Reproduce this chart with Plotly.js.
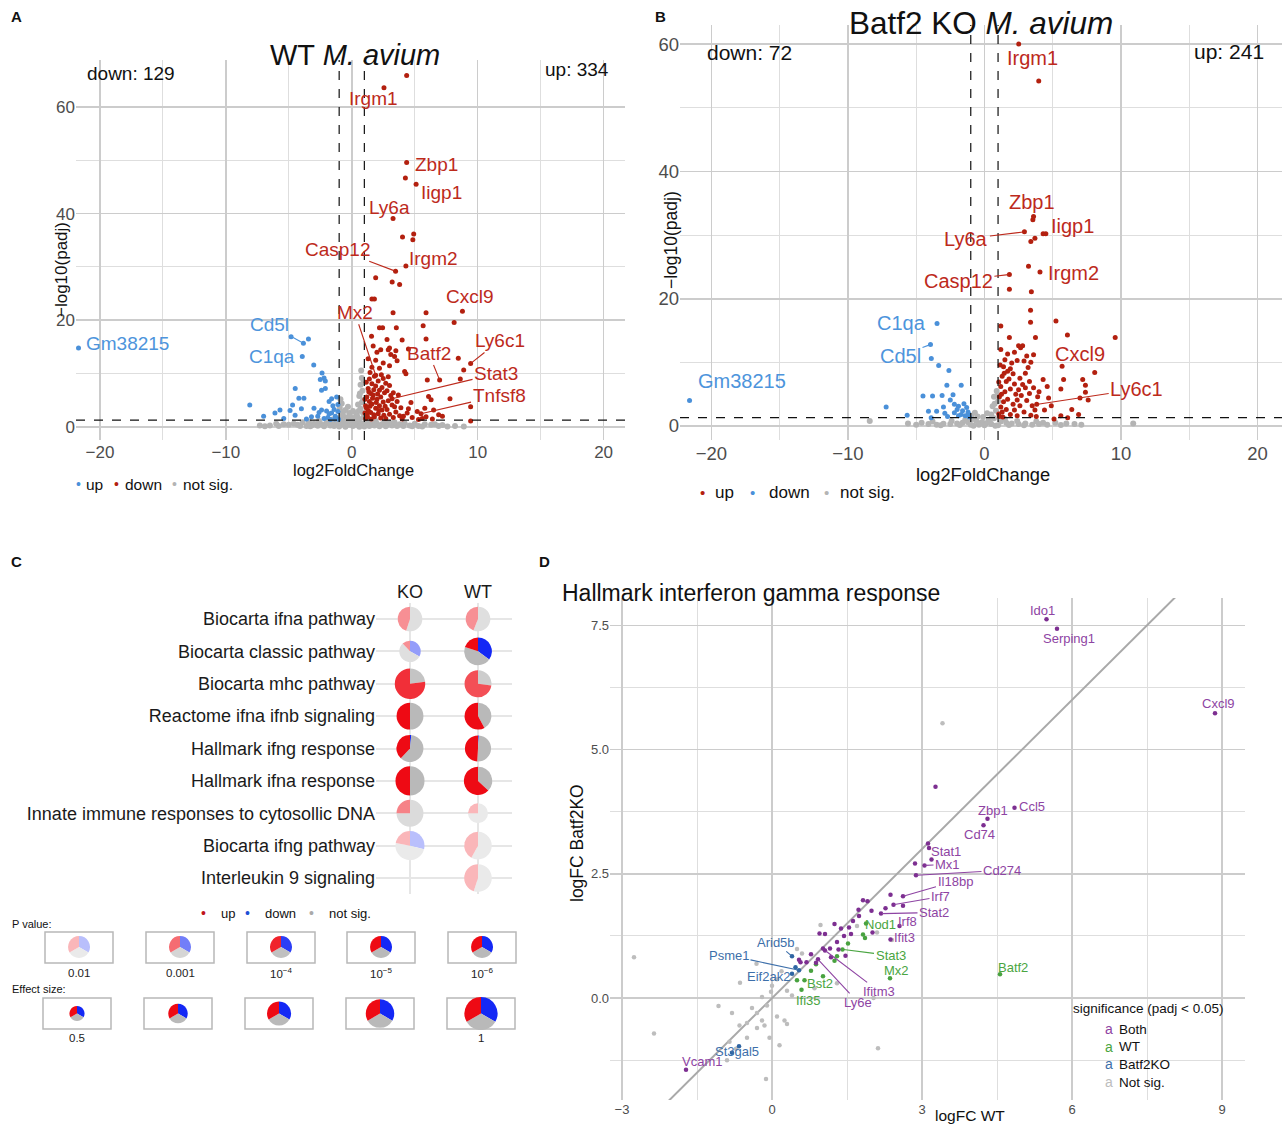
<!DOCTYPE html>
<html><head><meta charset="utf-8">
<script src="https://cdn.plot.ly/plotly-3.0.1.min.js"></script>
<style>html,body{margin:0;padding:0;background:#fff}#chart{width:1282px;height:1124px}</style>
</head><body><div id="chart"></div>
<script>
const W = 1282, H = 1124;
const FONT = 'Liberation Sans, Arial, Helvetica, sans-serif';

// ================= DATA =================
// thresholds
const lfcThreshold = 1;
const padjThreshold = 0.05;

// ---- Panel A: WT M. avium (log2FoldChange, -log10 padj) ----
const aCountDown = 129, aCountUp = 334;
const aUp = [[4.36,65.9],[2.56,63.6],[4.36,49.6],[4.26,46.7],[5.11,45.5],[3.28,39.1],[4.03,35.6],[4.92,36.2],[4.85,35.1],[4.30,30.2],[3.48,29.2],[1.90,28.0],[3.21,27.2],[3.80,26.7],[1.60,24.0],[1.80,24.0],[8.79,21.7],[3.28,21.4],[5.90,21.4],[8.13,19.6],[5.67,19.0],[2.20,18.6],[2.45,18.6],[3.54,18.6],[1.57,17.0],[5.90,16.5],[2.8,16.4],[4.0,16.3],[1.7,15.2],[2.3,14.5],[2.9,14.5],[3.0,14.8],[3.5,14.3],[2.0,14.0],[3.1,13.6],[3.4,13.2],[4.5,14.6],[8.46,12.9],[9.44,11.9],[8.89,10.7],[8.62,9.0],[4.2,10.4],[4.3,10.0],[6.0,8.8],[6.98,8.8],[3.2,5.3],[5.5,2.5],[7.8,5.3],[9.44,3.8],[9.44,1.1],[6.1,5.7],[6.3,5.1],[5.8,3.5],[6.5,3.2],[6.9,2.3],[7.2,2.0],[5.6,1.6],[5.3,1.4],[4.7,4.6],[4.5,3.4],[4.1,2.0],[1.9,9.7],[1.1,1.6],[1.2,2.3],[1.3,3.1],[1.1,4.0],[1.4,4.8],[1.2,5.6],[1.5,6.3],[1.3,7.2],[1.6,8.1],[1.4,9.0],[1.8,9.5],[2.1,8.6],[1.9,7.7],[2.2,6.9],[1.7,6.0],[2.0,5.2],[1.6,4.3],[1.9,3.5],[1.5,2.7],[1.8,1.9],[2.3,1.7],[2.1,2.5],[2.4,3.2],[2.2,4.0],[2.5,4.7],[2.3,5.6],[2.6,6.4],[2.4,7.4],[2.7,8.2],[2.5,9.1],[2.9,9.4],[3.0,7.8],[2.8,6.8],[3.1,5.9],[2.9,4.9],[3.2,4.1],[2.8,3.3],[3.0,2.4],[2.7,1.6],[3.3,1.8],[3.5,2.8],[3.4,3.8],[3.6,4.8],[3.3,6.4],[3.7,6.0],[1.25,1.9],[1.35,2.9],[1.15,3.6],[1.45,3.9],[1.05,5.2],[1.65,5.4],[1.35,6.6],[1.75,7.0],[1.15,8.4],[1.95,4.6],[2.15,3.1],[1.55,1.5],[1.05,2.6],[1.75,2.3],[2.55,2.2],[2.65,3.9],[2.05,6.2],[1.45,10.2],[2.35,9.8],[3.8,2.1],[4.0,1.5],[3.9,3.6],[4.4,2.6],[4.8,1.8],[5.2,2.9],[5.9,1.9],[6.4,1.5],[1.6,11.2],[1.9,12.5],[2.5,12.0],[2.2,11.0],[3.0,11.5],[1.3,12.8],[3.6,12.4]];
const aDown = [[-21.7,14.8],[-4.82,16.9],[-3.44,16.5],[-3.84,15.7],[-3.93,13.2],[-3.02,11.6],[-2.36,10.1],[-2.2,9.2],[-2.1,8.6],[-2.5,8.9],[-4.49,7.2],[-2.1,7.2],[-2.4,6.9],[-8.1,4.1],[-4.2,5.4],[-3.8,5.4],[-4.7,4.1],[-4.0,3.4],[-4.9,3.1],[-5.7,3.2],[-6.1,2.6],[-7.0,2.0],[-5.4,1.6],[-4.5,2.2],[-3.2,1.9],[-2.7,2.0],[-3.0,3.5],[-2.4,3.2],[-1.8,4.8],[-1.6,5.3],[-1.2,5.6],[-1.5,4.0],[-1.8,2.5],[-1.3,2.0],[-2.2,1.6],[-1.1,2.9],[-1.4,3.3],[-1.2,1.6],[-1.9,1.8],[-1.6,2.6],[-1.1,4.2],[-2.0,3.0],[-3.6,1.5],[-2.6,2.7],[-1.05,1.45],[-1.35,1.5],[-1.7,1.4]];
const aNotSig = [[0.75,10.6],[0.8,9.2],[0.7,7.9],[0.85,6.8],[0.6,5.8],[0.9,5.0],[0.5,4.2],[0.7,3.4],[0.9,2.6],[0.4,2.1],[0.6,1.5],[0.95,8.4],[0.65,6.3],[0.8,4.6],[0.55,3.0],[-0.3,0.9],[-0.6,1.1],[-0.9,1.2],[-0.85,2.0],[-0.7,2.8],[-0.95,3.6],[-0.8,4.4],[-0.9,5.2],[0.2,1.0],[0.5,0.8],[0.8,0.6],[-0.2,0.4],[-0.5,0.3],[-0.8,0.5],[0.1,0.2],[0.4,0.4],[-1.2,0.8],[-1.6,0.6],[-2.0,0.7],[-2.4,0.5],[-2.8,0.4],[-3.2,0.3],[-3.6,0.2],[-4.1,0.2],[1.2,0.9],[1.6,0.7],[2.0,0.6],[2.4,0.5],[2.8,0.4],[3.2,0.3],[3.6,0.2],[4.1,0.2],[4.6,0.3],[5.3,0.2],[-1.4,0.2],[-1.0,0.1],[1.0,0.1],[1.4,0.2],[-0.1,0.6],[0.3,1.3],[-0.4,1.8],[-0.7,2.2],[-0.2,2.6],[0.1,3.0],[-0.5,0.05],[0.6,0.05],[-7.3,0.3],[-6.5,0.3],[7.6,0.1],[8.9,0.1],[-5.0,0.4],[5.8,0.5],[-2.2,0.15],[2.2,0.15],[-3.0,0.6],[3.0,0.8],[-1.8,1.0],[1.9,1.1],[0.95,1.8],[-0.95,0.9],[-5.8,0.2],[-4.6,0.6],[-3.9,0.9],[-3.4,1.0],[-2.6,1.1],[-2.0,1.3],[-1.5,1.4],[-1.1,1.3],[1.1,1.3],[1.5,1.2],[2.6,1.0],[3.4,0.9],[4.2,0.7],[5.0,0.6],[6.3,0.4],[6.9,0.2],[8.2,0.2],[-6.0,0.6],[-0.35,1.4],[0.15,1.7],[-0.15,2.0],[0.35,2.5],[-0.5,3.2],[-0.3,3.8],[-5.4,0.5],[-4.3,0.4],[-3.3,0.15],[-2.7,0.25],[-1.7,0.3],[-0.6,0.6],[0.0,0.8],[0.7,0.3],[1.8,0.3],[2.7,0.15],[3.8,0.5],[4.8,0.15],[5.6,0.1],[6.6,0.5],[7.2,0.35],[-6.9,0.15],[-0.05,1.2],[0.45,1.9]];
const aLabelGenes = ['Irgm1','Zbp1','Iigp1','Ly6a','Casp12','Irgm2','Cxcl9','Mx2','Batf2','Ly6c1','Stat3','Tnfsf8','Cd5l','C1qa','Gm38215'];
const aLabelX = [2.56, 4.36, 5.11, 3.28, 3.48, 4.30, 8.79, 1.9, 6.98, 9.44, 3.2, 5.5, -3.84, -3.93, -21.7];
const aLabelY = [63.6, 49.6, 45.5, 39.1, 29.2, 30.2, 21.7, 9.7, 8.8, 11.9, 5.3, 2.5, 15.7, 13.2, 14.8];

// ---- Panel B: Batf2 KO M. avium ----
const bCountDown = 72, bCountUp = 241;
const bUp = [[2.51,60.0],[3.98,54.2],[3.6,32.9],[3.55,32.4],[2.93,30.5],[4.3,30.2],[4.5,30.2],[3.7,29.5],[3.4,29.0],[3.23,25.1],[4.07,24.2],[1.83,23.8],[1.83,21.5],[3.44,21.1],[3.38,18.2],[3.38,16.3],[5.24,16.5],[1.2,15.7],[6.08,14.3],[9.58,13.9],[1.83,13.9],[3.74,13.9],[2.5,12.6],[2.8,12.6],[2.65,12.3],[1.2,12.0],[1.7,11.3],[2.2,11.6],[3.1,11.0],[3.6,11.2],[2.9,10.2],[3.4,10.0],[1.5,10.4],[2.0,9.9],[2.4,10.3],[5.69,9.4],[8.08,8.4],[5.8,7.3],[5.6,5.8],[7.2,7.3],[7.4,6.4],[7.4,5.3],[7.0,4.4],[7.6,4.1],[4.7,4.4],[4.3,7.3],[4.6,6.2],[3.83,3.4],[6.9,1.8],[5.6,1.6],[6.1,1.3],[5.1,1.1],[4.4,2.5],[4.9,3.2],[6.4,2.6],[1.1,1.5],[1.3,2.2],[1.2,3.0],[1.4,3.8],[1.1,4.6],[1.5,5.4],[1.2,6.2],[1.6,7.0],[1.3,7.8],[1.7,8.6],[1.4,9.3],[1.9,9.0],[2.1,8.2],[1.8,7.4],[2.2,6.6],[1.9,5.8],[2.3,5.0],[1.7,4.2],[2.1,3.4],[1.6,2.6],[1.9,1.8],[2.4,1.6],[2.2,2.5],[2.6,3.2],[2.4,4.1],[2.7,4.8],[2.5,5.7],[2.8,6.5],[2.6,7.5],[3.0,8.3],[3.2,9.2],[3.3,7.0],[3.0,6.0],[3.3,5.1],[3.1,4.0],[3.5,3.2],[2.9,2.2],[3.4,1.7],[3.7,2.5],[3.9,4.6],[3.6,6.0],[4.0,5.4],[3.8,1.5],[1.05,1.9],[1.35,1.4],[1.25,5.0],[1.05,6.9],[1.45,8.3],[1.15,9.6]];
const bDown = [[-21.6,4.0],[-3.47,16.1],[-3.95,12.8],[-3.89,10.6],[-3.35,9.5],[-2.6,8.7],[-2.75,6.4],[-1.7,6.4],[-4.5,4.7],[-3.8,4.7],[-3.1,4.8],[-2.3,4.9],[-2.5,4.1],[-2.2,3.4],[-1.9,3.1],[-1.6,2.4],[-2.2,2.1],[-1.9,1.6],[-7.2,3.0],[-5.66,1.7],[-4.1,2.3],[-3.5,2.3],[-3.9,1.3],[-3.0,3.0],[-1.4,1.6],[-1.2,2.2],[-1.5,3.5],[-1.1,1.4],[-2.7,1.5],[-1.3,2.9],[-1.7,1.8],[-2.0,2.6],[-1.15,1.9],[-2.9,2.0]];
const bNotSig = [[0.9,5.5],[0.7,4.6],[1.0,3.9],[0.6,3.1],[0.85,2.4],[0.5,1.8],[0.7,1.2],[0.3,0.9],[-0.2,0.6],[-0.6,0.8],[-0.9,1.1],[0.1,0.4],[0.5,0.3],[-0.4,0.2],[-1.2,0.6],[-1.6,0.5],[-2.0,0.4],[-2.5,0.3],[-3.0,0.35],[-3.5,0.2],[-4.1,0.3],[-5.0,0.2],[-5.6,0.4],[1.2,0.7],[1.6,0.5],[2.0,0.4],[2.5,0.3],[3.0,0.4],[3.5,0.2],[4.0,0.3],[4.6,0.2],[5.2,0.5],[6.0,0.4],[6.6,0.3],[-8.4,0.8],[10.9,0.4],[-0.1,1.4],[0.2,2.0],[-0.5,1.5],[-1.0,0.2],[1.0,0.1],[-1.4,1.0],[1.5,1.1],[-2.4,0.8],[2.4,0.8],[0.0,0.1],[-0.8,0.05],[0.8,0.05],[-3.8,0.7],[3.8,0.7],[0.95,4.8],[0.75,3.5],[-0.95,1.6],[-0.7,2.1],[-4.6,0.5],[-3.2,0.1],[-1.8,0.15],[0.4,0.6],[1.8,0.15],[2.9,0.1],[4.3,0.5],[5.6,0.15],[7.1,0.2]];
const bLabelGenes = ['Irgm1','Zbp1','Iigp1','Ly6a','Casp12','Irgm2','Cxcl9','Ly6c1','C1qa','Cd5l','Gm38215'];
const bLabelX = [2.51, 3.6, 4.4, 2.93, 1.83, 4.07, 9.58, 3.83, -3.47, -3.95, -21.6];
const bLabelY = [60.0, 32.9, 30.2, 30.5, 23.8, 24.2, 13.9, 3.4, 16.1, 12.8, 4.0];

// ---- Panel C: pathway pies ----
const pathways = ['Biocarta ifna pathway','Biocarta classic pathway','Biocarta mhc pathway','Reactome ifna ifnb signaling','Hallmark ifng response','Hallmark ifna response','Innate immune responses to cytosollic DNA','Biocarta ifng pathway','Interleukin 9 signaling'];
const conditions = ['KO','WT'];
const koUp     = [0.45, 0.12, 0.77, 0.50, 0.38, 0.50, 0.25, 0.22, null];
const koDown   = [0,    0.33, 0,    0,    0.015,0,    0,    0.29, null];
const koPval   = [0.003,0.003,1.5e-4,1e-6,1e-6, 1e-6, 0.002,0.01, null];
const koEffect = [0.77, 0.68, 0.93, 0.83, 0.83, 0.89, 0.83, 0.89, null];
const wtUp     = [0.44, 0.20, 0.73, 0.58, 0.49, 0.63, 0.25, 0.42, 0.45];
const wtDown   = [0,    0.35, 0,    0,    0.01, 0,    0,    0,    0];
const wtPval   = [0.003,1e-5, 4e-4, 1e-6, 1e-6, 1e-6, 0.01, 0.01, 0.01];
const wtEffect = [0.77, 0.85, 0.83, 0.83, 0.81, 0.87, 0.64, 0.85, 0.85];
const legendPvals = [0.01, 0.001, 1e-4, 1e-5, 1e-6];
const legendPvalText = ['0.01','0.001','10<sup>−4</sup>','10<sup>−5</sup>','10<sup>−6</sup>'];
const legendEffects = [0.5, 0.625, 0.75, 0.875, 1];
const legendEffectText = ['0.5','','','','1'];
const legendShare = [1/3, 1/3]; // up, down

// ---- Panel D: Hallmark interferon gamma response (logFC WT, logFC Batf2KO) ----
const dBoth = [[5.49,7.62],[5.70,7.43],[8.86,5.73],[3.27,4.25],[4.85,3.83],[4.31,3.61],[4.23,3.48],[3.12,3.11],[3.14,3.02],[3.19,2.79],[3.05,2.67],[2.86,2.71],[2.88,2.47],[2.62,2.05],[2.37,2.08],[2.43,1.88],[2.62,1.86],[2.27,1.81],[2.18,1.70],[2.55,1.45],[2.37,1.18],[1.06,0.96],[0.92,0.78],[-1.72,-1.44],[1.82,1.97],[1.91,1.95],[1.73,1.78],[1.99,1.76],[1.74,1.65],[1.54,1.42],[1.58,1.29],[1.25,1.49],[1.44,1.25],[0.95,1.30],[1.06,1.29],[1.30,1.13],[1.02,1.00],[1.18,0.82],[1.33,0.98],[1.47,0.85],[0.54,0.77],[0.57,0.72],[0.69,0.72],[0.88,0.71],[1.16,1.00],[2.01,1.32],[1.62,1.55],[1.38,1.40],[0.78,0.88]];
const dWT = [[1.88,1.50],[1.82,1.28],[1.86,1.21],[1.41,0.98],[1.30,0.84],[2.36,0.40],[4.56,0.48],[0.65,0.36],[0.88,0.68],[1.02,0.44],[0.59,0.17],[0.50,0.36],[1.25,0.75],[0.78,0.55],[1.52,1.10]];
const dKO = [[0.40,0.84],[0.54,0.56],[0.40,0.49],[-0.66,-0.97],[-0.80,-1.10],[0.47,0.62]];
const dNotSig = [[3.41,5.53],[-2.76,0.82],[-2.36,-0.71],[-1.07,-0.16],[2.12,-1.01],[-0.12,-1.63],[-0.64,0.31],[-0.31,0.69],[0.97,1.47],[0.50,0.99],[0.19,0.54],[0.10,0.38],[0.00,0.25],[-0.02,0.13],[-0.20,0.02],[-0.10,-0.15],[-0.30,-0.30],[-0.20,-0.45],[-0.30,-0.60],[-0.15,-0.55],[-0.50,-0.50],[-0.65,-0.55],[0.10,-0.37],[0.25,-0.45],[0.30,-0.52],[-0.50,-0.80],[-0.85,-0.88],[-0.72,-1.02],[2.03,0.00],[2.40,1.17],[2.10,1.32],[1.70,1.45],[0.60,0.90],[0.85,0.20],[0.30,0.15],[-0.40,-0.20],[-0.05,-0.80],[0.15,-0.95],[-0.90,-1.25],[1.30,0.30],[0.40,0.05],[-0.80,-0.30]];
const dIdentity = [-2.1, 8.1];
const dLabelGenes = ['Ido1','Serping1','Cxcl9','Ccl5','Zbp1','Cd74','Stat1','Mx1','Cd274','Il18bp','Irf7','Stat2','Irf8','Ifit3','Ifitm3','Ly6e','Vcam1','Nod1','Stat3','Mx2','Batf2','Bst2','Ifi35','Arid5b','Psme1','Eif2ak2','St3gal5'];
const dLabelGroup = ['Both','Both','Both','Both','Both','Both','Both','Both','Both','Both','Both','Both','Both','Both','Both','Both','Both','WT','WT','WT','WT','WT','WT','KO','KO','KO','KO'];
const dLabelX = [5.49,5.70,8.86,4.85,4.31,4.23,3.12,3.05,2.88,2.62,2.43,2.18,2.55,2.37,1.06,0.92,-1.72,1.88,1.41,2.36,4.56,0.65,0.59,0.40,0.54,0.40,-0.66];
const dLabelY = [7.62,7.43,5.73,3.83,3.61,3.48,3.11,2.67,2.47,2.05,1.88,1.70,1.45,1.18,0.96,0.78,-1.44,1.50,0.98,0.40,0.48,0.36,0.17,0.84,0.56,0.49,-0.97];
const dLegendItems = ['Both','WT','Batf2KO','Not sig.'];

// ================= STYLE / LAYOUT CONFIG =================
const RED_PT = '#b3200f', BLUE_PT = '#4a90d9', GRAY_PT = '#b4b4b4';
const RED_TXT = '#bd2a1c', BLUE_TXT = '#4d94dc';
const D_COL = {Both:'#7d2f91', WT:'#48a23f', KO:'#2f65a3', NS:'#bdbdbd'};
const D_TXT = {Both:'#8e44a3', WT:'#4aa541', KO:'#3d6faa'};
const PIE_UP = [238,10,20], PIE_DOWN = [20,40,245], PIE_NS = [185,185,185];

// label offsets (pixels) and leader flags
const aLabelPos = {Irgm1:[-10,11,0],Zbp1:[30,2,0],Iigp1:[25,8,0],Ly6a:[-4,-11,0],Casp12:[-58,-22,1],Irgm2:[28,-7,0],Cxcl9:[8,-15,0],Mx2:[-21,-63,1],Batf2:[-11,-27,1],Ly6c1:[29,-23,1],Stat3:[104,-25,1],Tnfsf8:[78,-18,1],Cd5l:[-34,-19,1],C1qa:[-30,0,0],Gm38215:[49,-5,0]};
const bLabelPos = {Irgm1:[14,14,0],Zbp1:[-2,-15,0],Iigp1:[28,-8,0],Ly6a:[-58,7,1],Casp12:[-51,6,1],Irgm2:[34,1,0],Cxcl9:[-35,16,0],Ly6c1:[100,-15,1],C1qa:[-36,-1,0],Cd5l:[-30,11,1],Gm38215:[52,-20,0]};
const dLabelPos = {Ido1:[-4,-9,0],Serping1:[12,10,0],Cxcl9:[3,-10,0],Ccl5:[17,-1,0],Zbp1:[5,-8,0],Cd74:[-4,9,0],Stat1:[18,8,0],Mx1:[23,-1,1],Cd274:[86,-5,1],Il18bp:[52,-15,1],Irf7:[47,-8,1],Stat2:[53,-1,1],Irf8:[8,-5,0],Ifit3:[14,-2,0],Ifitm3:[54,41,1],Ly6e:[40,43,1],Vcam1:[16,-8,0],Nod1:[14,1,0],Stat3:[48,6,1],Mx2:[6,-8,0],Batf2:[13,-7,0],Bst2:[15,3,1],Ifi35:[7,11,0],Arid5b:[-16,-14,1],Psme1:[-70,-15,1],Eif2ak2:[-24,3,0],St3gal5:[-2,5,0]};

// pixel helpers
const fx = px => px / W;
const fy = py => 1 - py / H;

// subplot frames in pixels [left, right, top, bottom]
const FA = [76, 625, 60, 440];
const FB = [680, 1282, 25, 440];
const FC = [376, 512, 602.8, 894.2];
const FD = [610, 1245, 598, 1100];

const xs = a => a.map(p => p[0]);
const ys = a => a.map(p => p[1]);

const traces = [];
function pts(data, color, size, xa, ya) {
  traces.push({type:'scatter', mode:'markers', x:xs(data), y:ys(data), xaxis:xa, yaxis:ya,
    marker:{color, size, line:{width:0}}, hoverinfo:'skip', showlegend:false, cliponaxis:false});
}
// Panel A
pts(aNotSig, GRAY_PT, 6, 'x', 'y');
pts(aDown, BLUE_PT, 5, 'x', 'y');
pts(aUp, RED_PT, 5, 'x', 'y');
// Panel B
pts(bNotSig, GRAY_PT, 6, 'x2', 'y2');
pts(bDown, BLUE_PT, 5, 'x2', 'y2');
pts(bUp, RED_PT, 5, 'x2', 'y2');
// Panel D
traces.push({type:'scatter', mode:'lines', x:dIdentity, y:dIdentity, xaxis:'x4', yaxis:'y4',
  line:{color:'#a9a9a9', width:2}, hoverinfo:'skip', showlegend:false});
pts(dNotSig, D_COL.NS, 4.5, 'x4', 'y4');
pts(dKO, D_COL.KO, 4.5, 'x4', 'y4');
pts(dWT, D_COL.WT, 4.5, 'x4', 'y4');
pts(dBoth, D_COL.Both, 4.5, 'x4', 'y4');

// Panel C grid carrier
const cx = [], cy = [];
pathways.forEach(p => conditions.forEach(c => { cx.push(c); cy.push(p); }));
traces.push({type:'scatter', mode:'markers', x:cx, y:cy, xaxis:'x3', yaxis:'y3',
  marker:{size:1, color:'rgba(0,0,0,0)'}, hoverinfo:'skip', showlegend:false});

// pie helpers
const blend = (base, a) => 'rgb(' + base.map(c => Math.round(255 + (c - 255) * a)).join(',') + ')';
const pAlpha = p => Math.max(0.25, Math.min(1, 0.3 + 0.3 * (-Math.log10(p) - 2)));
const effRadius = e => 7.5 + 9 * (e - 0.5) / 0.5;
function pie(cxp, cyp, r, up, down, a) {
  traces.push({type:'pie', sort:false, direction:'clockwise', rotation:0,
    values:[down, Math.max(0, 1 - up - down), up],
    marker:{colors:[blend(PIE_DOWN,a), blend(PIE_NS,a), blend(PIE_UP,a)], line:{width:0}},
    textinfo:'none', hoverinfo:'skip', showlegend:false,
    domain:{x:[fx(cxp - r), fx(cxp + r)], y:[fy(cyp + r), fy(cyp - r)]}});
}
// category -> pixel through the C axis frame
const colPx = i => FC[0] + (i + 0.5) / conditions.length * (FC[1] - FC[0]);
const rowPx = j => FC[2] + (j + 0.5) / pathways.length * (FC[3] - FC[2]);
pathways.forEach((p, j) => {
  if (koUp[j] !== null) pie(colPx(0), rowPx(j), effRadius(koEffect[j]), koUp[j], koDown[j], pAlpha(koPval[j]));
  if (wtUp[j] !== null) pie(colPx(1), rowPx(j), effRadius(wtEffect[j]), wtUp[j], wtDown[j], pAlpha(wtPval[j]));
});

const shapes = [];
const annotations = [];
// text annotation helpers
function txt(x, y, text, size, opts) {
  annotations.push(Object.assign({xref:'paper', yref:'paper', x:fx(x), y:fy(y), text, showarrow:false,
    xanchor:'center', yanchor:'middle', font:{family:FONT, size, color:'#111'}}, opts || {}));
}
function gene(text, x, y, pos, color, xa, ya, size) {
  annotations.push({xref:xa, yref:ya, x, y, text, showarrow:true, arrowhead:0, arrowwidth:1.1,
    arrowcolor: pos[2] ? color : 'rgba(0,0,0,0)', ax:pos[0], ay:pos[1], standoff:1,
    font:{family:FONT, size, color}});
}

// legend boxes for C
const boxCentersP = [79, 180, 281, 381, 482];
const boxCentersE = [77, 178, 279, 380, 481];
const legendEffectP = 0.69;
boxCentersP.forEach((c, i) => {
  shapes.push({type:'rect', xref:'paper', yref:'paper', x0:fx(c-34), x1:fx(c+34), y0:fy(963), y1:fy(932), line:{color:'#b8b8b8', width:1.5}, layer:'below'});
  pie(c, 947, effRadius(legendEffectP), legendShare[0], legendShare[1], pAlpha(legendPvals[i]));
  txt(c, 973, legendPvalText[i], 11.5, {font:{family:FONT, size:11.5, color:'#222'}});
});
boxCentersE.forEach((c, i) => {
  shapes.push({type:'rect', xref:'paper', yref:'paper', x0:fx(c-34), x1:fx(c+34), y0:fy(1029), y1:fy(998), line:{color:'#b8b8b8', width:1.5}, layer:'below'});
  pie(c, 1013.5, effRadius(legendEffects[i]), legendShare[0], legendShare[1], pAlpha(1e-6));
  if (legendEffectText[i]) txt(c, 1038, legendEffectText[i], 11.5, {font:{family:FONT, size:11.5, color:'#222'}});
});

// threshold lines A & B
const hLine = -Math.log10(padjThreshold);
[['x','y'],['x2','y2']].forEach(([xa, ya]) => {
  [-lfcThreshold, lfcThreshold].forEach(v => shapes.push({type:'line', xref:xa, yref:ya + ' domain', x0:v, x1:v, y0:0, y1:1, line:{color:'#111', width:1.2, dash:'dash'}}));
  shapes.push({type:'line', xref:xa + ' domain', yref:ya, x0:0, x1:1, y0:hLine, y1:hLine, line:{color:'#111', width:1.2, dash:'dash'}});
});

aLabelGenes.forEach((g, i) => gene(g, aLabelX[i], aLabelY[i], aLabelPos[g], aLabelX[i] < 0 ? BLUE_TXT : RED_TXT, 'x', 'y', 19));
bLabelGenes.forEach((g, i) => gene(g, bLabelX[i], bLabelY[i], bLabelPos[g], bLabelX[i] < 0 ? BLUE_TXT : RED_TXT, 'x2', 'y2', 20));
dLabelGenes.forEach((g, i) => gene(g, dLabelX[i], dLabelY[i], dLabelPos[g], D_TXT[dLabelGroup[i]], 'x4', 'y4', 13));

// panel letters
txt(16, 17, '<b>A</b>', 15); txt(660, 17, '<b>B</b>', 15);
txt(16, 561, '<b>C</b>', 15); txt(544, 561, '<b>D</b>', 15);
// titles
txt(355, 55, 'WT <i>M. avium</i>', 29);
txt(981, 23, 'Batf2 KO <i>M. avium</i>', 31.5);
txt(560, 593, 'Hallmark interferon gamma response', 23, {xanchor:'left'});
// counts
txt(85, 73, 'down: ' + aCountDown, 19, {xanchor:'left'});
txt(611, 70, 'up: ' + aCountUp, 19, {xanchor:'right'});
txt(705, 53, 'down: ' + bCountDown, 21, {xanchor:'left'});
txt(1266, 51, 'up: ' + bCountUp, 21, {xanchor:'right'});
// axis titles
txt(61, 270, '−log10(padj)', 17, {textangle:-90});
txt(353, 470, 'log2FoldChange', 16.5);
txt(671, 240, '−log10(padj)', 17.5, {textangle:-90});
txt(983, 474, 'log2FoldChange', 18.3);
txt(577, 843, 'logFC Batf2KO', 17.5, {textangle:-90});
txt(970, 1115, 'logFC WT', 15.5);
// A legend
txt(78, 484, '•', 14, {font:{family:FONT, size:14, color:BLUE_PT}});
txt(94, 484, 'up', 15.5);
txt(116, 484, '•', 14, {font:{family:FONT, size:14, color:RED_PT}});
txt(143, 484, 'down', 15.5);
txt(174, 484, '•', 14, {font:{family:FONT, size:14, color:GRAY_PT}});
txt(208, 484, 'not sig.', 15.5);
// B legend
txt(702, 493, '•', 15, {font:{family:FONT, size:15, color:RED_PT}});
txt(724, 493, 'up', 17);
txt(753, 493, '•', 15, {font:{family:FONT, size:15, color:BLUE_PT}});
txt(789, 493, 'down', 17);
txt(826, 493, '•', 15, {font:{family:FONT, size:15, color:GRAY_PT}});
txt(868, 493, 'not sig.', 17);
// C legend
txt(203, 913, '•', 14, {font:{family:FONT, size:14, color:'#c0141b'}});
txt(228, 913, 'up', 13);
txt(247, 913, '•', 14, {font:{family:FONT, size:14, color:'#1e4fd6'}});
txt(280, 913, 'down', 13);
txt(311, 913, '•', 14, {font:{family:FONT, size:14, color:'#aaaaaa'}});
txt(350, 913, 'not sig.', 13);
txt(10, 924, 'P value:', 11, {xanchor:'left'});
txt(10, 989, 'Effect size:', 11, {xanchor:'left'});
// D legend
txt(1148, 1008, 'significance (padj &lt; 0.05)', 13.5);
const dLegendCols = [D_TXT.Both, D_TXT.WT, D_TXT.KO, '#bdbdbd'];
dLegendItems.forEach((t, i) => {
  const y = 1029 + i * 17.7;
  txt(1109, y, 'a', 14, {font:{family:FONT, size:14, color:dLegendCols[i]}});
  txt(1117, y, t, 13.5, {xanchor:'left'});
});

// axes
const GRID = '#cccccc', MINOR = '#dedede';
function axis(dom, range, dtick, minor, size, extra) {
  return Object.assign({domain:dom, range, autorange:false, dtick, tick0:0, showgrid:true, gridcolor:GRID, gridwidth:1.6,
    minor:{dtick:minor, tick0:0, showgrid:true, gridcolor:MINOR, gridwidth:1}, zeroline:false, showline:false, ticks:'',
    tickfont:{family:FONT, size, color:'#4d4d4d'}, fixedrange:true}, extra || {});
}
const layout = {
  width:W, height:H, margin:{l:0, r:0, t:0, b:0}, paper_bgcolor:'#fff', plot_bgcolor:'rgba(0,0,0,0)',
  showlegend:false, font:{family:FONT},
  xaxis: axis([fx(FA[0]), fx(FA[1])], [-21.9, 21.7], 10, 5, 17, {anchor:'y'}),
  yaxis: axis([fy(FA[3]), fy(FA[2])], [-2.44, 68.8], 20, 10, 17, {anchor:'x'}),
  xaxis2: axis([fx(FB[0]), fx(FB[1])], [-22.3, 21.8], 10, 5, 18.5, {anchor:'y2'}),
  yaxis2: axis([fy(FB[3]), fy(FB[2])], [-2.2, 63.0], 20, 10, 18.5, {anchor:'x2'}),
  xaxis3: {domain:[fx(FC[0]), fx(FC[1])], anchor:'y3', type:'category', categoryorder:'array', categoryarray:conditions,
    range:[-0.5, conditions.length - 0.5], autorange:false, side:'top', showgrid:true, gridcolor:'#e6e6e6', gridwidth:2,
    zeroline:false, showline:false, ticks:'', tickfont:{family:FONT, size:18, color:'#1a1a1a'}, fixedrange:true},
  yaxis3: {domain:[fy(FC[3]), fy(FC[2])], anchor:'x3', type:'category', categoryorder:'array', categoryarray:pathways,
    range:[pathways.length - 0.5, -0.5], autorange:false, showgrid:true, gridcolor:'#e6e6e6', gridwidth:2,
    zeroline:false, showline:false, ticks:'', tickfont:{family:FONT, size:18, color:'#1a1a1a'}, fixedrange:true},
  xaxis4: axis([fx(FD[0]), fx(FD[1])], [-3.24, 9.46], 3, 1.5, 13, {anchor:'y4'}),
  yaxis4: axis([fy(FD[3]), fy(FD[2])], [-2.05, 8.05], 2.5, 1.25, 13, {anchor:'x4', tickformat:'.1f'}),
  shapes, annotations
};
Plotly.newPlot('chart', traces, layout, {staticPlot:true, displayModeBar:false});
</script>
</body></html>
